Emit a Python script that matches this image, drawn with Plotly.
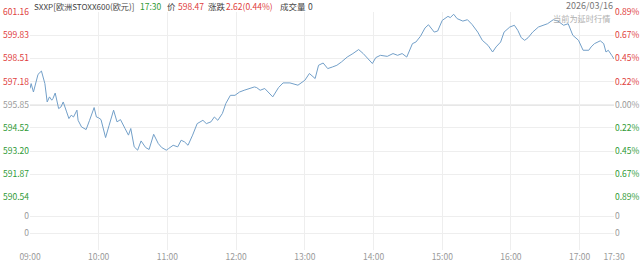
import plotly.graph_objects as go

# ---- data ----
times = ["09:00","09:01","09:03","09:06","09:07","09:10","09:11","09:13","09:15","09:17","09:19","09:20","09:22","09:25","09:27","09:29",
         "09:32","09:34","09:36","09:38","09:41","09:42","09:45","09:49","09:52","09:56","09:58","10:00","10:02","10:04","10:06","10:09",
         "10:13","10:16","10:19","10:23","10:26","10:28","10:31","10:34","10:37","10:41","10:44","10:48","10:52","10:55","10:59","11:01",
         "11:05","11:09","11:12","11:15","11:18","11:22","11:26","11:31","11:34","11:38","11:41","11:44","11:48","11:51","11:55","11:59",
         "12:03","12:07","12:12","12:16","12:18","12:21","12:25","12:32","12:37","12:41","12:47","12:54","13:00","13:04","13:09","13:12",
         "13:16","13:20","13:24","13:28","13:32","13:37","13:42","13:47","13:51","13:54","13:59","14:02","14:06","14:12","14:17","14:21",
         "14:25","14:29","14:34","14:37","14:41","14:45","14:48","14:53","14:56","15:00","15:05","15:07","15:10","15:13","15:18","15:22",
         "15:26","15:31","15:35","15:40","15:44","15:47","15:51","15:54","15:59","16:03","16:06","16:09","16:12","16:15","16:19","16:24",
         "16:28","16:32","16:37","16:41","16:46","16:50","16:54","16:59","17:03","17:08","17:10","17:13","17:18","17:21","17:23","17:25",
         "17:28","17:30"]
prices = [596.78,597.06,596.58,597.44,597.59,597.78,597.54,597.06,596.01,596.30,596.11,596.20,596.52,595.63,595.72,596.01,
          595.44,595.06,595.25,595.15,595.54,594.96,594.58,594.43,594.96,595.69,595.15,595.10,595.00,594.51,593.97,594.65,
          595.54,594.87,595.00,594.49,594.11,594.49,593.44,593.25,593.78,593.40,593.29,594.16,593.63,593.40,593.25,593.34,
          593.53,593.44,593.82,593.72,593.53,594.11,594.77,594.96,594.77,594.87,595.15,594.96,595.35,595.92,596.39,596.39,
          596.58,596.68,596.78,596.87,596.83,596.68,596.78,596.30,596.83,597.10,597.10,596.97,597.25,597.64,597.35,598.11,
          598.24,597.92,598.01,598.11,598.30,598.58,598.78,599.01,598.78,598.58,598.21,598.55,598.68,598.62,598.78,598.68,
          598.78,598.58,599.35,599.44,599.77,600.25,600.43,600.01,600.07,600.68,600.91,600.84,601.03,600.78,600.64,600.72,
          600.45,600.01,599.54,599.25,598.87,599.16,599.44,600.01,600.30,600.40,600.11,599.69,599.54,599.69,600.01,600.30,
          600.40,600.49,600.72,600.64,600.40,600.49,599.83,599.54,598.97,598.97,599.16,599.35,599.51,599.35,598.87,598.97,
          598.68,598.47]

prev_close = 595.85
price_ticks = [590.54, 591.87, 593.20, 594.52, 595.85, 597.18, 598.51, 599.83, 601.16]
pct_labels = ["0.89%", "0.67%", "0.45%", "0.22%", "0.00%", "0.22%", "0.45%", "0.67%", "0.89%"]
x_tick_labels = ["09:00","10:00","11:00","12:00","13:00","14:00","15:00","16:00","17:00","17:30"]
vol_tick_labels = ["0", "0"]

header_parts = ["SXXP[欧洲STOXX600(欧元)]", "17:30", "价", "598.47", "涨跌", "2.62(0.44%)", "成交量", "0"]
date_text = "2026/03/16"
delay_text = "当前为延时行情"

RED = "#e0403d"
GREEN = "#2f9a36"
GRAY = "#9a9a9a"
DARK = "#444444"
FONT = "Noto Sans CJK SC"
FS = 8.5

def to_min(t):
    h, m = t.split(":")
    return (int(h) - 9) * 60 + int(m)

xs = [to_min(t) for t in times]
x_tick_vals = [to_min(t) for t in x_tick_labels]

def colored(text, v):
    if abs(v - prev_close) < 1e-6:
        c = GRAY
    elif v > prev_close:
        c = RED
    else:
        c = GREEN
    return f"<span style='color:{c}'>{text}</span>"

left_text = [colored(f"{v:.2f}", v) for v in price_ticks]
right_text = [colored(p, v) for p, v in zip(pct_labels, price_ticks)]

fig = go.Figure()
fig.add_trace(go.Scatter(x=xs, y=prices, mode="lines", line=dict(color="#729fc8", width=1),
                         xaxis="x", yaxis="y", hoverinfo="skip", showlegend=False))
fig.add_trace(go.Scatter(x=xs, y=prices, mode="lines", line=dict(width=0), opacity=0,
                         xaxis="x", yaxis="y3", hoverinfo="skip", showlegend=False))
fig.add_trace(go.Scatter(x=[0, 510], y=[0, 0], mode="lines", line=dict(width=0), opacity=0,
                         xaxis="x2", yaxis="y2", hoverinfo="skip", showlegend=False))
fig.add_trace(go.Scatter(x=[0, 510], y=[0, 0], mode="lines", line=dict(width=0), opacity=0,
                         xaxis="x2", yaxis="y4", hoverinfo="skip", showlegend=False))

L, R, T, B = 30, 26, 12, 11
W, H = 640, 261
PW, PH = W - L - R, H - T - B

def px_x(x):
    return (x - L) / PW

def px_y(y):
    return (H - B - y) / PH

price_dom = [px_y(197.5), 1.0]
vol_dom = [0.0, px_y(197.5)]
yr = [590.54, 601.16]
vr = [0, 3.088]

grid = "#eeeeee"
common = dict(automargin=False, zeroline=False, showline=False, ticks="")
tf = dict(size=FS, family=FONT)
fig.update_layout(
    width=W, height=H,
    margin=dict(l=L, r=R, t=T, b=B, autoexpand=False),
    paper_bgcolor="white", plot_bgcolor="white",
    font=dict(family=FONT, size=FS, color=GRAY),
    showlegend=False,
    xaxis=dict(domain=[0, 1], range=[0, 510], anchor="y", tickvals=x_tick_vals, showticklabels=False,
               showgrid=True, gridcolor=grid, gridwidth=1, **common),
    xaxis2=dict(domain=[0, 1], range=[0, 510], anchor="y2", tickvals=x_tick_vals, ticktext=x_tick_labels,
                showgrid=True, gridcolor=grid, gridwidth=1,
                tickfont=dict(color=GRAY, **tf), ticklabelstandoff=0, **common),
    yaxis=dict(domain=price_dom, range=yr, tickvals=price_ticks, ticktext=left_text, side="left", anchor="x",
               showgrid=True, gridcolor=grid, tickfont=tf, ticklabelstandoff=0, **common),
    yaxis3=dict(domain=price_dom, range=yr, tickvals=price_ticks, ticktext=right_text, side="right",
                overlaying="y", anchor="x", showgrid=False, tickfont=tf, ticklabelstandoff=0, **common),
    yaxis2=dict(domain=vol_dom, range=vr, tickvals=[1, 2], ticktext=vol_tick_labels, side="left",
                showgrid=True, gridcolor=grid, tickfont=dict(color=GRAY, **tf), ticklabelstandoff=0,
                anchor="x2", **common),
    yaxis4=dict(domain=vol_dom, range=vr, tickvals=[1, 2], ticktext=vol_tick_labels, side="right",
                overlaying="y2", anchor="x2", showgrid=False, tickfont=dict(color=GRAY, **tf),
                ticklabelstandoff=0, **common),
)

# midline at previous close
fig.add_shape(type="line", xref="x", yref="y", x0=0, x1=510, y0=prev_close, y1=prev_close,
              line=dict(color="#cfcfcf", width=1.3), layer="below")

header_colors = [DARK, GREEN, DARK, RED, DARK, RED, DARK, DARK]
header_x = [33, 139, 166, 177, 207, 225, 279, 307]
header_sizes = [8.1, FS, FS, FS, FS, FS, FS, FS]
for txt, col, hx, hs in zip(header_parts, header_colors, header_x, header_sizes):
    fig.add_annotation(text=txt, xref="paper", yref="paper", x=px_x(hx), y=px_y(6),
                       xanchor="left", yanchor="middle", showarrow=False, borderpad=0,
                       font=dict(size=hs, family=FONT, color=col))
fig.add_annotation(text=date_text, xref="paper", yref="paper", x=px_x(614), y=px_y(5.5),
                   xanchor="right", yanchor="middle", showarrow=False, borderpad=0,
                   font=dict(size=9, family=FONT, color="#777777"))
fig.add_annotation(text=delay_text, xref="paper", yref="paper", x=px_x(611), y=px_y(17.5),
                   xanchor="right", yanchor="middle", showarrow=False, borderpad=0,
                   font=dict(size=8.2, family=FONT, color="#b0b0b0"))

fig.write_html("out.html")
